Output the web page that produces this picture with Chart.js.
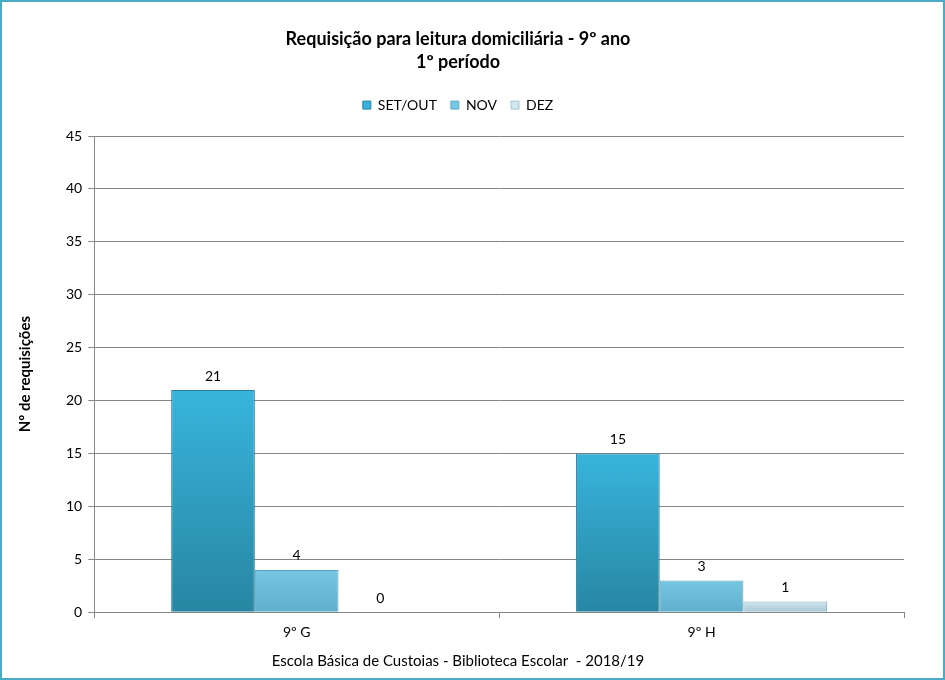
<!DOCTYPE html>
<html>
<head>
<meta charset="utf-8">
<script src="https://cdn.jsdelivr.net/npm/chart.js@4"></script>
<style>
  html, body { margin: 0; padding: 0; background: #fff; }
  #wrap { width: 945px; height: 680px; box-sizing: border-box; border: 2px solid #4bacc6; position: relative; }
  canvas { display: block; }
</style>
</head>
<body>
<div id="wrap"><canvas id="grafico" width="941" height="676"></canvas></div>
<script>
var turmas = ['9º G', '9º H'];
var setOut = [21, 15];
var nov = [4, 3];
var dez = [0, 1];
var cores = [['#38b4dc', '#2886a2'], ['#76c7e3', '#60afcc'], ['#d0e7ef', '#a7c6d3']];

// gradiente vertical em cada barra
function gradiente(idx) {
  return function(ctx) {
    var chart = ctx.chart;
    if (!chart.chartArea || ctx.raw === undefined) return cores[idx][0];
    var y = chart.scales.y;
    var topo = y.getPixelForValue(ctx.raw);
    var base = y.getPixelForValue(0);
    if (base - topo < 1) return cores[idx][0];
    var g = chart.ctx.createLinearGradient(0, topo, 0, base);
    g.addColorStop(0, cores[idx][0]);
    g.addColorStop(1, cores[idx][1]);
    return g;
  };
}

// escreve os valores por cima das barras
var valores = {
  id: 'valores',
  afterDatasetsDraw: function(chart) {
    var ctx = chart.ctx;
    ctx.save();
    ctx.font = '14px Lato';
    ctx.fillStyle = '#000';
    ctx.textAlign = 'center';
    ctx.textBaseline = 'bottom';
    chart.data.datasets.forEach(function(ds, i) {
      chart.getDatasetMeta(i).data.forEach(function(bar, j) {
        ctx.fillText(ds.data[j], bar.x, bar.y - 7);
      });
    });
    ctx.restore();
  }
};

// mais espaco por baixo da legenda
var espacoLegenda = {
  id: 'espacoLegenda',
  beforeInit: function(chart) {
    var fitOrig = chart.legend.fit;
    chart.legend.fit = function() {
      fitOrig.bind(chart.legend)();
      this.height += 14;
    };
  }
};

var dados = {
  labels: turmas,
  datasets: [
    { label: 'SET/OUT', data: setOut, backgroundColor: gradiente(0), borderColor: '#2a7f99', borderWidth: 1 },
    { label: 'NOV', data: nov, backgroundColor: gradiente(1), borderColor: '#5aa3bf', borderWidth: 1 },
    { label: 'DEZ', data: dez, backgroundColor: gradiente(2), borderColor: '#8fb6c6', borderWidth: 1 }
  ]
};

new Chart(document.getElementById('grafico'), {
  type: 'bar',
  data: dados,
  plugins: [valores, espacoLegenda],
  options: {
    responsive: false,
    animation: false,
    layout: { padding: { left: 10, right: 39, top: 0, bottom: 0 } },
    datasets: { bar: { barPercentage: 1, categoryPercentage: 0.62 } },
    plugins: {
      title: {
        display: true,
        text: ['Requisição para leitura domiciliária - 9º ano', '1º período'],
        color: '#000',
        font: { family: 'Lato', size: 18, weight: 'bold', lineHeight: 1.28 },
        padding: { top: 26, bottom: 10 }
      },
      subtitle: {
        display: true,
        position: 'bottom',
        text: 'Escola Básica de Custoias - Biblioteca Escolar  - 2018/19',
        color: '#000',
        font: { family: 'Lato', size: 15 },
        padding: { top: 5, bottom: 8 }
      },
      legend: {
        position: 'top',
        labels: {
          color: '#000',
          font: { family: 'Lato', size: 14 },
          boxWidth: 8, boxHeight: 8,
          padding: 14,
          generateLabels: function(chart) {
            return chart.data.datasets.map(function(ds, i) {
              return { text: ds.label, fillStyle: cores[i][0], strokeStyle: cores[i][1], lineWidth: 1, datasetIndex: i };
            });
          }
        }
      },
      tooltip: { enabled: false }
    },
    scales: {
      x: {
        grid: { display: true, drawOnChartArea: false, drawTicks: true, tickLength: 6, color: '#868686', offset: true },
        border: { color: '#868686' },
        ticks: { color: '#000', font: { family: 'Lato', size: 14 }, padding: 6 }
      },
      y: {
        min: 0, max: 45,
        ticks: { stepSize: 5, color: '#000', font: { family: 'Lato', size: 14 }, padding: 6 },
        grid: { color: '#868686', tickLength: 6 },
        border: { color: '#868686' },
        title: {
          display: true,
          text: 'Nº de requisições',
          color: '#000',
          font: { family: 'Lato', size: 15, weight: 'bold' },
          padding: { bottom: 26 }
        }
      }
    }
  }
});
</script>
</body>
</html>
